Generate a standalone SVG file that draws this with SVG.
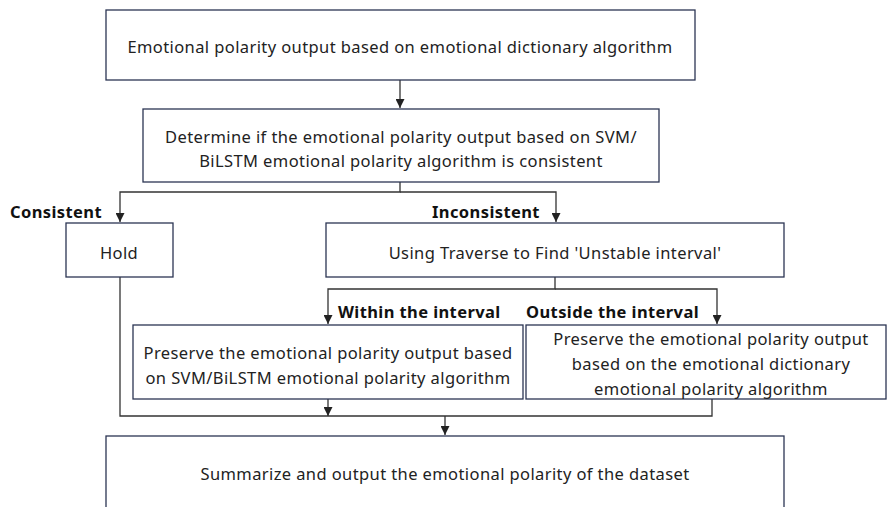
<svg xmlns="http://www.w3.org/2000/svg" width="887" height="507" viewBox="0 0 887 507">
<defs>
<marker id="arr" viewBox="0 0 10 10" refX="10" refY="5" markerWidth="9" markerHeight="9" markerUnits="userSpaceOnUse" orient="auto">
<path d="M0,0 L10,5 L0,10 z" fill="#222"/>
</marker>
<style>
.box{fill:#fff;stroke:#2b3553;stroke-width:1.3}
.t{font-family:"Noto Sans","Open Sans",sans-serif;font-size:16.5px;letter-spacing:0.4px;fill:#222;text-anchor:middle;dominant-baseline:central}
.b{font-family:"Noto Sans","Open Sans",sans-serif;font-size:16.5px;letter-spacing:0.4px;font-weight:bold;fill:#111;dominant-baseline:central}
.c{fill:none;stroke:#333;stroke-width:1.3}
</style>
</defs>
<rect width="887" height="507" fill="#fff"/>
<g id="connectors">
<path class="c" d="M400,80 V108" marker-end="url(#arr)"/>
<path class="c" d="M400,182 V192 H120 V222" marker-end="url(#arr)"/>
<path class="c" d="M400,192 H556 V222" marker-end="url(#arr)"/>
<path class="c" d="M555,277 V289 H328 V324" marker-end="url(#arr)"/>
<path class="c" d="M555,289 H717 V324" marker-end="url(#arr)"/>
<path class="c" d="M120,277 V416 H712 V399"/>
<path class="c" d="M328,399 V416" marker-end="url(#arr)"/>
<path class="c" d="M445,416 V435" marker-end="url(#arr)"/>
</g>
<g id="labels">
<text class="b" x="10" y="211">Consistent</text>
<text class="b" x="432" y="211">Inconsistent</text>
<text class="b" x="338" y="311">Within the interval</text>
<text class="b" x="526" y="311">Outside the interval</text>
</g>
<g id="n1">
<rect class="box" x="106" y="10" width="589" height="70"/>
<text class="t" x="400" y="46">Emotional polarity output based on emotional dictionary algorithm</text>
</g>
<g id="n2">
<rect class="box" x="143" y="109" width="516" height="73"/>
<text class="t" x="401" y="136">Determine if the emotional polarity output based on SVM/</text>
<text class="t" x="401" y="160">BiLSTM emotional polarity algorithm is consistent</text>
</g>
<g id="n3">
<rect class="box" x="66" y="223" width="107" height="54"/>
<text class="t" x="119" y="252">Hold</text>
</g>
<g id="n4">
<rect class="box" x="326" y="223" width="458" height="54"/>
<text class="t" x="555" y="252">Using Traverse to Find 'Unstable interval'</text>
</g>
<g id="n5">
<rect class="box" x="133" y="325" width="390" height="74"/>
<text class="t" x="328" y="352">Preserve the emotional polarity output based</text>
<text class="t" x="328" y="377">on SVM/BiLSTM emotional polarity algorithm</text>
</g>
<g id="n6">
<rect class="box" x="526" y="325" width="360" height="74"/>
<text class="t" x="711" y="338">Preserve the emotional polarity output</text>
<text class="t" x="711" y="363">based on the emotional dictionary</text>
<text class="t" x="711" y="388">emotional polarity algorithm</text>
</g>
<g id="n7">
<rect class="box" x="106" y="436" width="678" height="80"/>
<text class="t" x="445" y="473">Summarize and output the emotional polarity of the dataset</text>
</g>
</svg>
